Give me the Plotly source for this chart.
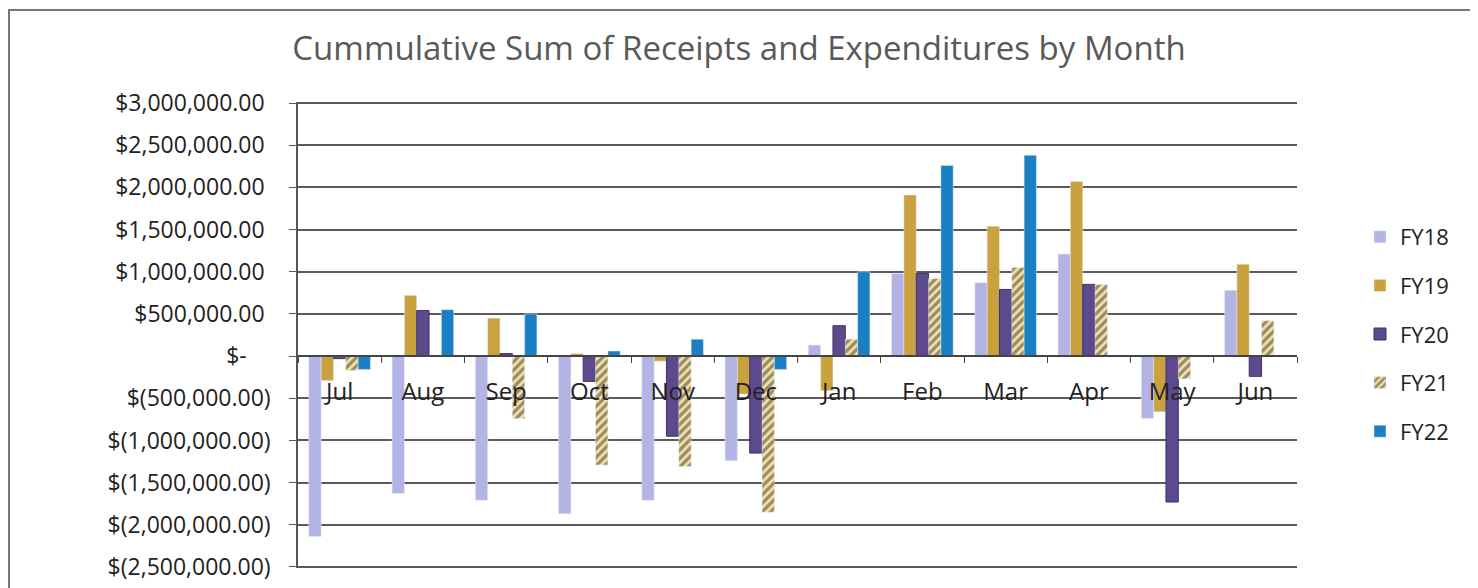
import plotly.graph_objects as go

months = ["Jul", "Aug", "Sep", "Oct", "Nov", "Dec", "Jan", "Feb", "Mar", "Apr", "May", "Jun"]
fy18 = [-2140000, -1630000, -1710000, -1870000, -1710000, -1240000, 130000, 980000, 870000, 1210000, -740000, 780000]
fy19 = [-290000, 720000, 450000, 30000, -60000, -450000, -410000, 1910000, 1540000, 2070000, -660000, 1090000]
fy20 = [-30000, 540000, 30000, -300000, -950000, -1150000, 360000, 980000, 790000, 850000, -1730000, -240000]
fy21 = [-170000, 10000, -740000, -1290000, -1310000, -1850000, 200000, 920000, 1050000, 850000, -270000, 420000]
fy22 = [-160000, 550000, 500000, 60000, 200000, -160000, 1000000, 2260000, 2380000, 0, 0, 0]

tick_vals = [3000000, 2500000, 2000000, 1500000, 1000000, 500000, 0,
             -500000, -1000000, -1500000, -2000000, -2500000]
tick_text = ["$3,000,000.00\u00a0", "$2,500,000.00\u00a0", "$2,000,000.00\u00a0", "$1,500,000.00\u00a0",
             "$1,000,000.00\u00a0", "$500,000.00\u00a0", "$-\u00a0\u00a0\u00a0\u00a0",
             "$(500,000.00)", "$(1,000,000.00)", "$(1,500,000.00)", "$(2,000,000.00)", "$(2,500,000.00)"]

FONT = "Open Sans"
OFF = 8  # page body margin
W, H = 1478 - OFF, 588 - OFF
L, R, T, B = 298 - OFF, 181, 103 - OFF - 1, 20
PW, PH = W - L - R, H - T - B

fig = go.Figure()
series = [
    ("FY18", fy18, dict(color="#b3b3e6")),
    ("FY19", fy19, dict(color="#c9a13e")),
    ("FY20", fy20, dict(color="#5c4a8c", line=dict(color="#3e3070", width=1))),
    ("FY21", fy21, dict(color="#f7e88f",
                        pattern=dict(shape="/", fgcolor="#36286e", bgcolor="#f7e88f",
                                     size=6, solidity=0.55))),
    ("FY22", fy22, dict(color="#1b7fc4")),
]
for name, vals, marker in series:
    fig.add_trace(go.Bar(x=months, y=vals, name=name, marker=marker, legendgroup=name))

fig.update_layout(
    width=W, height=H,
    margin=dict(l=L, r=R, t=T, b=B, autoexpand=False),
    paper_bgcolor="white", plot_bgcolor="white",
    barmode="group", bargap=0.26, bargroupgap=0,
    font=dict(family=FONT, color="#222222"),
    title=dict(text="Cummulative Sum of Receipts and Expenditures by Month",
               x=(739 - OFF) / W, xref="container", xanchor="center",
               y=1 - (48 - OFF) / H, yref="container", yanchor="middle",
               font=dict(family=FONT, size=33, color="#595959")),
    legend=dict(x=(1360 - OFF) / W, xref="container", xanchor="left",
                y=1 - (334 - OFF) / H, yref="container", yanchor="middle",
                font=dict(family=FONT, size=22, color="#222222"),
                tracegroupgap=17, itemwidth=30, bgcolor="rgba(0,0,0,0)"),
    showlegend=True,
)
fig.update_xaxes(
    type="category", anchor="free", position=(2.5 + 0.012) / (5.5 + 0.024),
    showline=True, linecolor="#444444", linewidth=1.5,
    ticks="outside", tickson="boundaries", ticklen=6, tickcolor="#444444",
    ticklabelstandoff=14,
    tickfont=dict(family=FONT, size=24, color="#222222"),
    showgrid=False,
)
fig.update_yaxes(
    range=[-2512000, 3012000], tickvals=tick_vals, ticktext=tick_text,
    showline=True, linecolor="#555555", linewidth=1.5,
    ticks="outside", ticklen=7, tickcolor="#555555",
    ticklabelstandoff=14,
    tickfont=dict(family=FONT, size=23, color="#222222"),
    showgrid=True, gridcolor="#5a5a5a", gridwidth=1.5,
    zeroline=False,
)
# chart border
fig.add_shape(type="rect", xref="paper", yref="paper",
              x0=(9 - 298) / PW, x1=(1472 - 298) / PW,
              y0=-0.2, y1=(567 - 9) / PH,
              line=dict(color="#777777", width=2), fillcolor="rgba(0,0,0,0)", layer="below")

fig.write_html("out.html")
